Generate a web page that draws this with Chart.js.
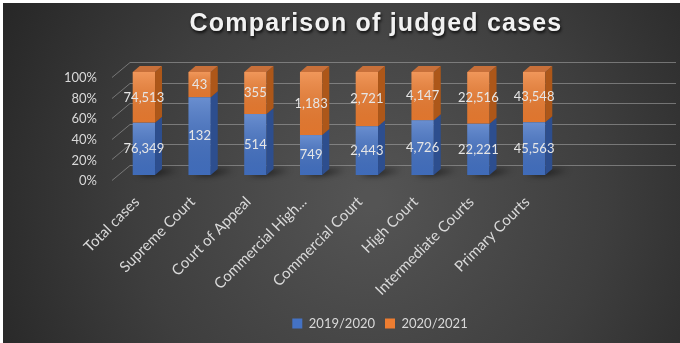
<!DOCTYPE html>
<html>
<head>
<meta charset="utf-8">
<script src="https://cdn.jsdelivr.net/npm/chart.js@4.4.1/dist/chart.umd.min.js"></script>
<style>
  html, body { margin: 0; padding: 0; background: #fff; }
  #wrap { width: 680px; height: 343px; }
</style>
</head>
<body>
<div id="wrap"><canvas id="casesChart" width="680" height="343"></canvas></div>
<script>
const categories = ['Total cases', 'Supreme Court', 'Court of Appeal', 'Commercial High Court',
  'Commercial Court', 'High Court', 'Intermediate Courts', 'Primary Courts'];
const cases2019 = [76349, 132, 514, 749, 2443, 4726, 22221, 45563];
const cases2020 = [74513, 43, 355, 1183, 2721, 4147, 22516, 43548];
const seriesNames = ['2019/2020', '2020/2021'];
const yTicks = [0, 20, 40, 60, 80, 100];

// 100% stacked: share of each year in a court's total
const share2019 = cases2019.map((v, i) => v / (v + cases2020[i]) * 100);
const share2020 = cases2020.map((v, i) => v / (cases2019[i] + v) * 100);

const DX = 7, DY = -6;          // depth of the 3D look
const TXT = '#d9d9d9';
Chart.defaults.font.family = 'Lato';

const sideColors = ['#2d4e8e', '#ad5719'];
const topColors = ['#3e63a8', '#c8703a'];

// shift a box's drawing sideways (the original is centred a bit right)
function nudge(chart, box, dx, shadow) {
  if (!box) return;
  const orig = box.draw.bind(box);
  box.draw = function () {
    const c = chart.ctx;
    c.save();
    c.translate(dx, 0);
    if (shadow) {
      c.shadowColor = 'rgba(0,0,0,0.8)';
      c.shadowBlur = 3;
      c.shadowOffsetX = 1;
      c.shadowOffsetY = 2;
      c.letterSpacing = '1.2px';
    }
    orig();
    c.restore();
  };
}

const depthPlugin = {
  id: 'depth',
  afterInit(chart) {
    nudge(chart, chart.titleBlock, 7, true);
    nudge(chart, chart.legend, 11, false);
  },
  beforeDraw(chart) {
    const c = chart.ctx;
    const w = chart.width, h = chart.height;
    c.save();
    c.fillStyle = '#ffffff';
    c.fillRect(0, 0, w, h);
    const g = c.createRadialGradient(370, 200, 10, 370, 200, 420);
    g.addColorStop(0, '#545454');
    g.addColorStop(0.55, '#3e3e3e');
    g.addColorStop(1, '#262626');
    c.fillStyle = g;
    c.fillRect(3, 3, w - 3, h - 3);
    c.restore();
  },
  beforeDatasetsDraw(chart) {
    const c = chart.ctx;
    const y = chart.scales.y;
    c.save();
    c.lineWidth = 1;
    yTicks.forEach(t => {
      const py = Math.round(y.getPixelForValue(t)) + 0.5;
      c.strokeStyle = 'rgba(170,170,170,0.55)';
      c.beginPath();
      c.moveTo(112, py + 5);
      c.lineTo(130, py + DY - 4);
      c.lineTo(676, py + DY - 4);
      c.stroke();
    });
    // shadows on the floor behind each column
    const meta = chart.getDatasetMeta(0);
    c.filter = 'blur(3px)';
    c.fillStyle = 'rgba(0,0,0,0.75)';
    meta.data.forEach(bar => {
      const l = bar.x - bar.width / 2, r = bar.x + bar.width / 2, b = bar.base;
      c.beginPath();
      c.moveTo(l + 4, b);
      c.lineTo(r, b);
      c.lineTo(r + DX + 16, b + DY + 1);
      c.lineTo(l + DX + 10, b + DY + 1);
      c.closePath();
      c.fill();
    });
    c.restore();
  },
  afterDatasetsDraw(chart) {
    const c = chart.ctx;
    c.save();
    chart.data.datasets.forEach((ds, di) => {
      const meta = chart.getDatasetMeta(di);
      meta.data.forEach((bar, i) => {
        const l = bar.x - bar.width / 2, r = bar.x + bar.width / 2;
        const top = bar.y, b = bar.base;
        // front shading
        const g = c.createLinearGradient(0, top, 0, b);
        g.addColorStop(0, 'rgba(255,255,255,0.2)');
        g.addColorStop(1, 'rgba(0,0,0,0.06)');
        c.fillStyle = g;
        c.fillRect(l, top, r - l, b - top);
        // side face
        c.fillStyle = sideColors[di];
        c.beginPath();
        c.moveTo(r, top);
        c.lineTo(r + DX, top + DY);
        c.lineTo(r + DX, b + DY);
        c.lineTo(r, b);
        c.closePath();
        c.fill();
        // top face on the upper segment
        if (di === chart.data.datasets.length - 1) {
          c.fillStyle = topColors[di];
          c.beginPath();
          c.moveTo(l, top);
          c.lineTo(l + DX, top + DY);
          c.lineTo(r + DX, top + DY);
          c.lineTo(r, top);
          c.closePath();
          c.fill();
        }
      });
    });
    // value labels (case counts)
    c.font = '13px Lato';
    c.fillStyle = '#e6e6e6';
    c.textAlign = 'center';
    c.textBaseline = 'middle';
    const counts = [cases2019, cases2020];
    chart.data.datasets.forEach((ds, di) => {
      chart.getDatasetMeta(di).data.forEach((bar, i) => {
        c.fillText(counts[di][i].toLocaleString('en-US'), bar.x, (bar.y + bar.base) / 2);
      });
    });
    c.restore();
  }
};

const ctx = document.getElementById('casesChart').getContext('2d');
const casesChart = new Chart(ctx, {
  type: 'bar',
  data: {
    labels: categories,
    datasets: [
      { label: seriesNames[0], data: share2019, backgroundColor: '#4472c4', stack: 's' },
      { label: seriesNames[1], data: share2020, backgroundColor: '#ed7d31', stack: 's' }
    ]
  },
  options: {
    responsive: false,
    animation: false,
    layout: { padding: { left: 58, right: 0, top: 0, bottom: 3 } },
    categoryPercentage: 0.8,
    barPercentage: 0.5,
    scales: {
      x: {
        stacked: true,
        grid: { display: false, drawTicks: false },
        border: { display: false },
        ticks: {
          color: TXT,
          font: { size: 15 },
          maxRotation: 45,
          minRotation: 45,
          padding: 18,
          labelOffset: -7,
          autoSkip: false,
          callback: (v, i) => {
            const l = categories[i];
            return l.length > 20 ? l.slice(0, 15) + '...' : l;
          }
        },
        afterFit: s => { s.height = 132; }
      },
      y: {
        stacked: true,
        min: 0,
        max: 100,
        grid: { display: false, drawTicks: false },
        border: { display: false },
        ticks: {
          stepSize: 20,
          color: TXT,
          font: { size: 13 },
          padding: 19,
          labelOffset: 6,
          callback: v => v + '%'
        },
        afterFit: s => { s.width = 58; }
      },
      spacer: {
        type: 'linear',
        position: 'right',
        display: true,
        grid: { display: false, drawTicks: false },
        border: { display: false },
        ticks: { display: false },
        afterFit: s => { s.width = 118; }
      }
    },
    plugins: {
      title: {
        display: true,
        text: 'Comparison of judged cases',
        color: '#f2f2f2',
        font: { family: 'Liberation Sans', size: 25, weight: 'bold' },
        padding: { top: 9, bottom: 33 }
      },
      legend: {
        position: 'bottom',
        labels: {
          color: TXT,
          font: { size: 13 },
          boxWidth: 10,
          boxHeight: 10,
          padding: 10
        }
      },
      tooltip: { enabled: false }
    }
  },
  plugins: [depthPlugin]
});
</script>
</body>
</html>
